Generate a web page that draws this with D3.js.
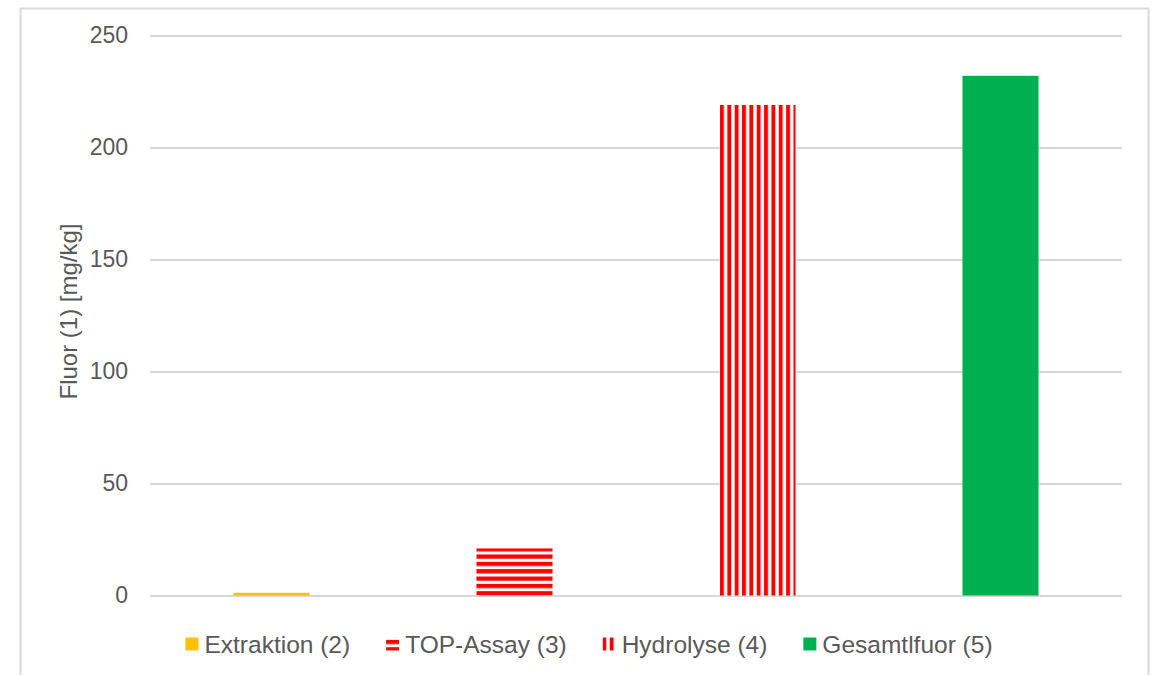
<!DOCTYPE html>
<html>
<head>
<meta charset="utf-8">
<script src="https://cdn.jsdelivr.net/npm/d3@7"></script>
<style>
  html, body { margin: 0; padding: 0; background: #fff; }
  svg { display: block; font-family: "Liberation Sans", Arial, sans-serif; }
</style>
</head>
<body>
<svg id="chart" width="1155" height="675"></svg>
<script>
// Fluorine content by analysis method
const categories = ["Extraktion (2)", "TOP-Assay (3)", "Hydrolyse (4)", "Gesamtlfuor (5)"];
const values = [1.2, 21, 219, 232];
const yTicks = [0, 50, 100, 150, 200, 250];
const yLabel = "Fluor (1) [mg/kg]";

const fills = ["#ffc000", "url(#hstripes)", "url(#vstripes)", "#00b050"];

const svg = d3.select("#chart");
const plot = { left: 150, right: 1122, top: 35.5, bottom: 595.5 };

// chart frame
svg.append("rect")
  .attr("x", 20.5).attr("y", 8.5)
  .attr("width", 1128).attr("height", 700)
  .attr("fill", "#fff").attr("stroke", "#d9d9d9").attr("stroke-width", 2);

// stripe patterns
const defs = svg.append("defs");
const period = 7.35;
const hp = defs.append("pattern").attr("id", "hstripes")
  .attr("patternUnits", "userSpaceOnUse")
  .attr("x", 0).attr("y", plot.bottom - 4.3)
  .attr("width", 10).attr("height", period);
hp.append("rect").attr("width", 10).attr("height", period).attr("fill", "#fff");
hp.append("rect").attr("y", 0).attr("width", 10).attr("height", 4.3).attr("fill", "#ff0000");

const vp = defs.append("pattern").attr("id", "vstripes")
  .attr("patternUnits", "userSpaceOnUse")
  .attr("x", 720).attr("y", 0)
  .attr("width", period).attr("height", 10);
vp.append("rect").attr("width", period).attr("height", 10).attr("fill", "#fff");
vp.append("rect").attr("x", 0).attr("width", 3.9).attr("height", 10).attr("fill", "#ff0000");

const x = d3.scaleBand().domain(categories)
  .range([plot.left, plot.right]).paddingInner(0.687).paddingOuter(0.3435);
const y = d3.scaleLinear().domain([0, 250]).range([plot.bottom, plot.top]);

// gridlines and tick labels
const yAxis = d3.axisLeft(y).tickValues(yTicks).tickSize(-(plot.right - plot.left)).tickPadding(22);
const gy = svg.append("g").attr("transform", `translate(${plot.left},0)`).call(yAxis);
gy.select(".domain").remove();
gy.selectAll(".tick line").attr("stroke", "#d9d9d9").attr("stroke-width", 2);
gy.selectAll(".tick text")
  .attr("fill", "#595959").attr("font-size", 23)
  .attr("font-family", "Liberation Sans, Arial, sans-serif");

// bars
svg.append("g").selectAll("rect")
  .data(categories)
  .join("rect")
  .attr("x", d => x(d))
  .attr("width", x.bandwidth())
  .attr("y", (d, i) => y(values[i]))
  .attr("height", (d, i) => y(0) - y(values[i]))
  .attr("fill", (d, i) => fills[i]);

// axis title
svg.append("text")
  .attr("transform", `translate(77,${(plot.top + plot.bottom) / 2 - 4}) rotate(-90)`)
  .attr("text-anchor", "middle")
  .attr("fill", "#595959").attr("font-size", 24)
  .text(yLabel);

// legend
const legend = svg.append("g");
const items = [];
categories.forEach((c, i) => {
  const g = legend.append("g");
  g.append("rect").attr("x", 0).attr("y", -6.5).attr("width", 13).attr("height", 13)
    .attr("fill", fills[i]);
  const t = g.append("text").attr("x", 19).attr("y", 8.5)
    .attr("fill", "#595959").attr("font-size", 24.5).text(c);
  const w = 19 + t.node().getComputedTextLength();
  items.push({ g, w });
});
const gap = 36;
const total = d3.sum(items, d => d.w) + gap * (items.length - 1);
let cx = 589 - total / 2;
items.forEach(it => {
  it.g.attr("transform", `translate(${cx},644)`);
  cx += it.w + gap;
});
</script>
</body>
</html>
